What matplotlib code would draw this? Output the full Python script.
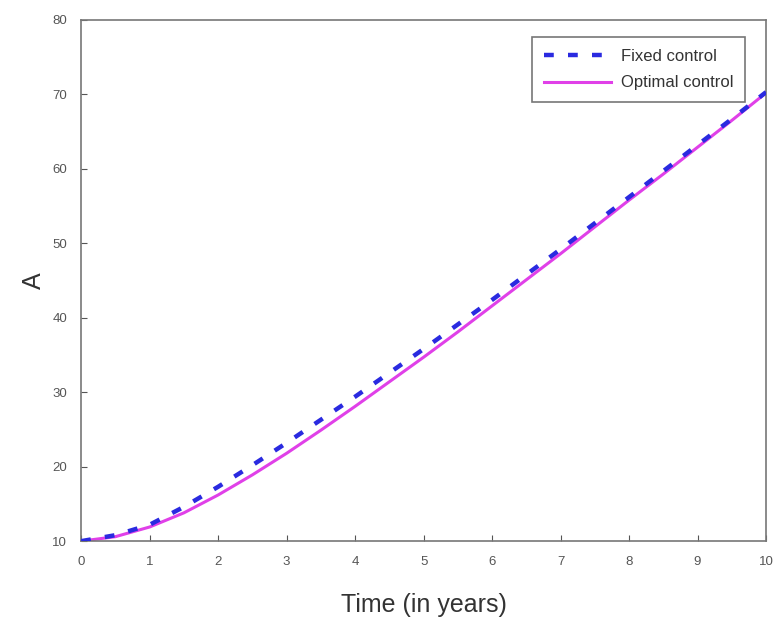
import matplotlib

matplotlib.use("Agg")

import matplotlib.pyplot as plt

# Values
time_years = [0.0, 0.5, 1.0, 1.5, 2.0, 2.5, 3.0, 3.5, 4.0, 4.5, 5.0,
              5.5, 6.0, 6.5, 7.0, 7.5, 8.0, 8.5, 9.0, 9.5, 10.0]
fixed_control = [10.0, 10.8, 12.2, 14.6, 17.3, 20.2, 23.2, 26.3, 29.4, 32.6, 35.8,
                 39.1, 42.4, 45.8, 49.2, 52.7, 56.2, 59.7, 63.2, 66.7, 70.3]
optimal_control = [10.0, 10.6, 11.9, 13.8, 16.2, 18.9, 21.8, 24.9, 28.1, 31.4, 34.7,
                   38.1, 41.6, 45.1, 48.6, 52.2, 55.8, 59.3, 62.9, 66.5, 70.2]
x_ticks = list(range(0, 11))
y_ticks = list(range(10, 81, 10))

plt.rcParams["font.family"] = ["Liberation Sans", "DejaVu Sans"]

fig = plt.figure(figsize=(7.73, 6.22), dpi=100)
ax = fig.add_axes([0.105, 0.130, 0.886, 0.838])

ax.plot(time_years, fixed_control, color="#2a2ae0", linewidth=3.2,
        dashes=(2.2, 3.2), label="Fixed control", zorder=3)
ax.plot(time_years, optimal_control, color="#e040e8", linewidth=2.2,
        label="Optimal control", zorder=2)

ax.set_xlim(0, 10)
ax.set_ylim(10, 80)
ax.set_xticks(x_ticks)
ax.set_yticks(y_ticks)
ax.tick_params(direction="in", length=4, labelsize=9.5, colors="#555555",
               top=False, right=False)
ax.tick_params(axis="x", pad=11)
ax.tick_params(axis="y", pad=10)
for spine in ax.spines.values():
    spine.set_color("#777777")
    spine.set_linewidth(1.2)

ax.set_xlabel("Time (in years)", fontsize=18, color="#333333", labelpad=18)
ax.set_ylabel("A", fontsize=18, color="#333333", labelpad=5)

leg = ax.legend(loc="upper right", fontsize=12, fancybox=False, framealpha=1,
                edgecolor="#777777", handlelength=4.0, borderpad=0.7,
                labelspacing=0.7, handletextpad=0.6, borderaxespad=0,
                bbox_to_anchor=(0.969, 0.967))
leg.get_frame().set_linewidth(1.2)
for t in leg.get_texts():
    t.set_color("#333333")

fig.savefig("out.png", dpi=100)
plt.close("all")
